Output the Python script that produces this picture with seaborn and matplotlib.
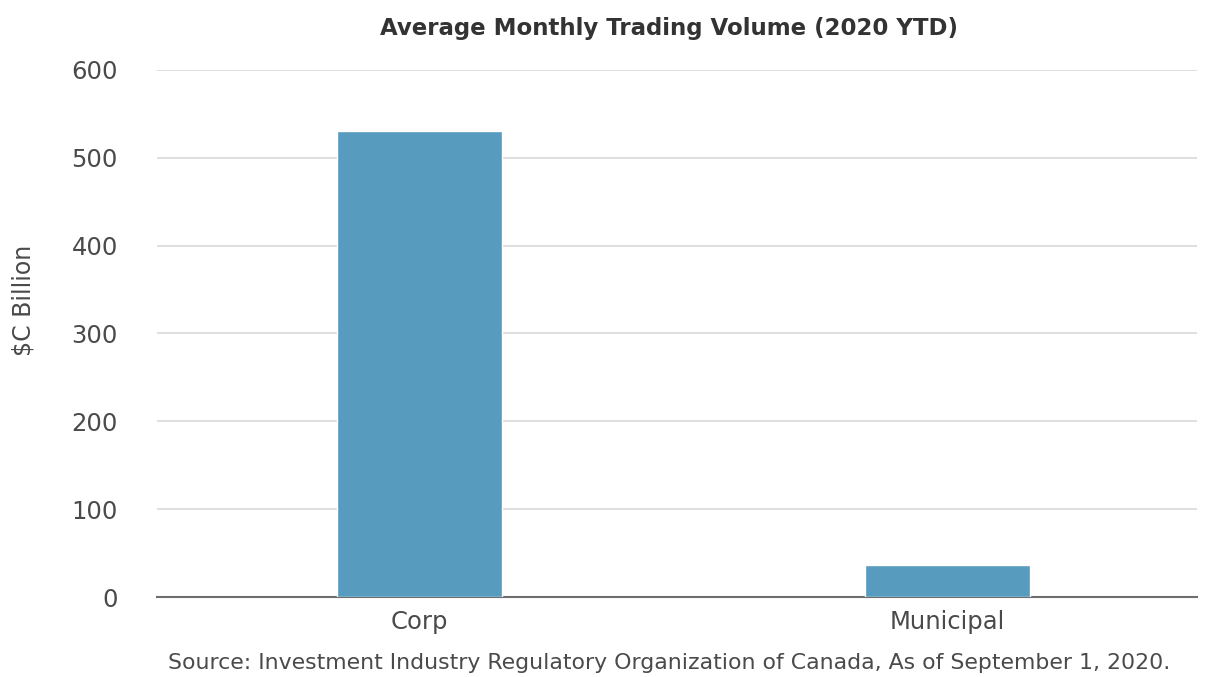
import matplotlib
matplotlib.use('Agg')
import matplotlib.pyplot as plt
import pandas as pd
import seaborn as sns

categories = ['Corp', 'Municipal']
volumes = [530, 36]
yticks = [0, 100, 200, 300, 400, 500, 600]

df = pd.DataFrame({'type': categories, 'volume': volumes})

sns.set_style('white')
plt.rcParams['font.family'] = ['DejaVu Sans']

fig = plt.figure(figsize=(12.15, 6.77), dpi=100)
ax = fig.add_axes([0.129, 0.118, 0.856, 0.779])

sns.barplot(data=df, x='type', y='volume', color='#579bbe', saturation=1,
            width=0.3125, ax=ax, zorder=3)

ax.set_xlim(-0.497, 1.473)
ax.set_ylim(0, 600)
ax.set_yticks(yticks)
ax.set_yticklabels([str(t) for t in yticks])
ax.yaxis.grid(True, color='#d9d9d9', linewidth=1.2, zorder=0)
ax.set_axisbelow(True)
for s in ['top', 'right', 'left']:
    ax.spines[s].set_visible(False)
ax.spines['bottom'].set_color('#6e6e6e')
ax.spines['bottom'].set_linewidth(1.5)
ax.tick_params(axis='both', length=0, labelsize=17.5, colors='#4a4a4a')
ax.tick_params(axis='y', pad=28)
ax.tick_params(axis='x', pad=9)
ax.set_xlabel('')
ax.set_ylabel('$C Billion', fontsize=17, color='#4a4a4a')
ax.yaxis.set_label_coords(-0.117, 0.562)

fig.text(0.551, 0.958, 'Average Monthly Trading Volume (2020 YTD)', ha='center',
         va='center', fontsize=16.5, fontweight='bold', color='#333333')
fig.text(0.551, 0.021, 'Source: Investment Industry Regulatory Organization of Canada, As of September 1, 2020.',
         ha='center', va='center', fontsize=15.8, color='#4a4a4a')

fig.savefig('out.png', dpi=100)
